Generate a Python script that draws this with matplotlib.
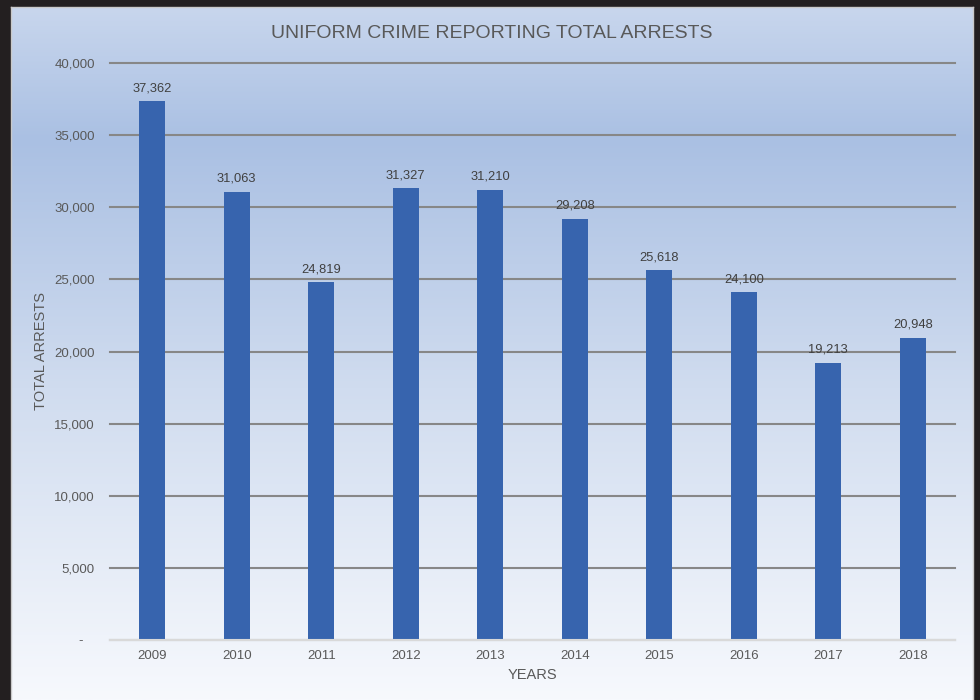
"""
Uniform Crime Reporting total arrests by year, 2009-2018 (Excel-style chart).
Saved to out.png
"""
import numpy as np
import matplotlib
matplotlib.use("Agg")
import matplotlib.pyplot as plt
from matplotlib.colors import LinearSegmentedColormap
from matplotlib.ticker import FuncFormatter, MultipleLocator

YEARS = ["2009", "2010", "2011", "2012", "2013", "2014", "2015", "2016", "2017", "2018"]
ARRESTS = [37362, 31063, 24819, 31327, 31210, 29208, 25618, 24100, 19213, 20948]

TXT = "#595959"
BAR = "#3764ae"
W, H = 980, 700

plt.rcParams["font.family"] = ["Liberation Sans", "DejaVu Sans"]

fig = plt.figure(figsize=(W / 100, H / 100), dpi=100, facecolor="#231f20")

# chart panel with vertical light-blue gradient
px0, px1, py0 = 11, 973, 7
bg = fig.add_axes([px0 / W, 0, (px1 - px0) / W, (H - py0) / H], zorder=-1)
grad = LinearSegmentedColormap.from_list(
    "panel", [(0, "#c8d6ed"), (0.19, "#aac0e3"), (0.55, "#d0dcef"), (1, "#f7f9fd")])
bg.imshow(np.linspace(0, 1, 256)[:, None], aspect="auto", cmap=grad,
          extent=[0, 1, 0, 1], origin="upper")
bg.set_xlim(0, 1); bg.set_ylim(0, 1)
for s in bg.spines.values():
    s.set_color("#c9c9c9"); s.set_linewidth(1)
bg.spines["bottom"].set_visible(False)
bg.set_xticks([]); bg.set_yticks([])

# plot area
ax_l, ax_r, ax_t, ax_b = 110, 955, 63, 640
ax = fig.add_axes([ax_l / W, 1 - ax_b / H, (ax_r - ax_l) / W, (ax_b - ax_t) / H])
ax.patch.set_alpha(0)

x = np.arange(len(YEARS))
ax.bar(x, ARRESTS, width=0.31, color=BAR, zorder=3)
for xi, v in zip(x, ARRESTS):
    ax.annotate(f"{v:,}", (xi, v), textcoords="offset points", xytext=(0, 5),
                ha="center", va="bottom", fontsize=9.3, color="#404040")

ax.set_xlim(-0.5, len(YEARS) - 0.5)
ax.set_ylim(0, 40000)
ax.yaxis.set_major_locator(MultipleLocator(5000))
ax.yaxis.set_major_formatter(FuncFormatter(lambda v, p: "-   " if v == 0 else f"{v:,.0f}"))
ax.set_xticks(x); ax.set_xticklabels(YEARS)
ax.tick_params(axis="both", length=0, labelsize=9.5, labelcolor=TXT)
ax.tick_params(axis="y", pad=11)
ax.tick_params(axis="x", pad=7)

ax.grid(axis="y", color="#878787", linewidth=1.5, zorder=1)
ax.grid(axis="x", visible=False)
for gl in ax.get_ygridlines():
    gl.set_clip_on(False)
for s in ("top", "right", "left"):
    ax.spines[s].set_visible(False)
ax.spines["bottom"].set_color("#d9d9d9"); ax.spines["bottom"].set_linewidth(1.5)
ax.spines["bottom"].set_zorder(4)

ax.set_xlabel("YEARS", fontsize=10.5, color=TXT)
ax.set_ylabel("TOTAL ARRESTS", fontsize=10.5, color=TXT)
ax.xaxis.set_label_coords(0.5, -0.048)
ax.yaxis.set_label_coords((48 - ax_l) / (ax_r - ax_l), 0.5)

fig.text(492 / W, 1 - 33 / H, "UNIFORM CRIME REPORTING TOTAL ARRESTS",
         ha="center", va="center", fontsize=14, color=TXT)

fig.savefig("out.png", dpi=100, facecolor=fig.get_facecolor())
